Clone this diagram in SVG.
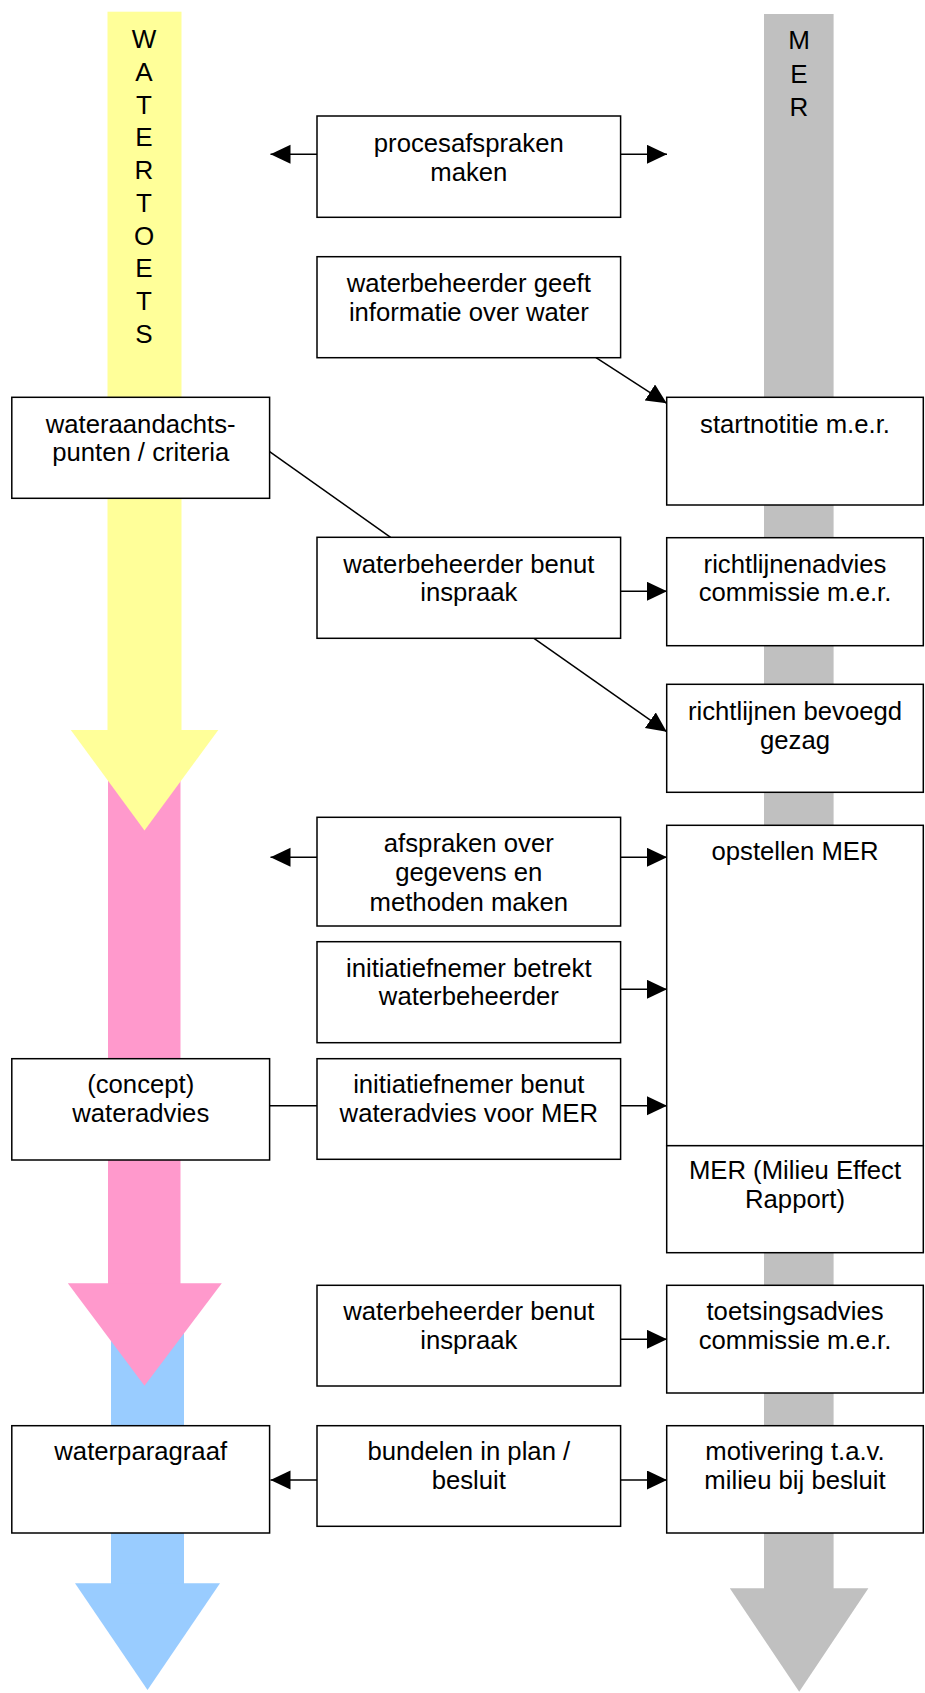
<svg xmlns="http://www.w3.org/2000/svg" width="925" height="1693" viewBox="0 0 925 1693">
  <style>
    .box { fill: #ffffff; stroke: #000000; stroke-width: 1.5; }
    .lbl { font-family: "Liberation Sans", Arial, sans-serif; font-size: 25.7px; fill: #000000; text-anchor: middle; }
    .col { font-family: "Liberation Sans", Arial, sans-serif; font-size: 26px; fill: #000000; text-anchor: middle; }
    .con { stroke: #000000; stroke-width: 1.5; fill: none; }
    .arr { marker-end: url(#head); }
  </style>
  <defs>
    <marker id="head" markerUnits="userSpaceOnUse" markerWidth="21" markerHeight="20" refX="20" refY="9.5" orient="auto" viewBox="0 0 21 20">
      <path d="M0,0 L20,9.5 L0,19 Z" fill="#000000"/>
    </marker>
  </defs>

  <!-- process streams -->
  <g id="streams">
    <!-- MER stream (grey) -->
    <rect x="764" y="14" width="69.6" height="1575" fill="#C0C0C0"/>
    <polygon points="729.8,1588.3 868.4,1588.3 799.2,1691.7" fill="#C0C0C0"/>
    <!-- watertoets: blue phase -->
    <rect x="111" y="1330" width="73" height="254" fill="#99CCFF"/>
    <polygon points="75,1583.3 220,1583.3 147.5,1690" fill="#99CCFF"/>
    <!-- watertoets: pink phase -->
    <rect x="108" y="760" width="72.5" height="524" fill="#FF99CC"/>
    <polygon points="67.8,1283.3 221.8,1283.3 144.5,1385.7" fill="#FF99CC"/>
    <!-- watertoets: yellow phase -->
    <rect x="107.5" y="11.7" width="74" height="719" fill="#FFFF99"/>
    <polygon points="70.8,730 218.3,730 144.5,830.5" fill="#FFFF99"/>
  </g>

  <!-- stream titles -->
  <g id="title-watertoets" class="col">
    <text x="144" y="48.3">W</text>
    <text x="144" y="81">A</text>
    <text x="144" y="113.7">T</text>
    <text x="144" y="146.4">E</text>
    <text x="144" y="179.1">R</text>
    <text x="144" y="211.8">T</text>
    <text x="144" y="244.5">O</text>
    <text x="144" y="277.2">E</text>
    <text x="144" y="309.9">T</text>
    <text x="144" y="342.6">S</text>
  </g>
  <g id="title-mer" class="col">
    <text x="799" y="49.3">M</text>
    <text x="799" y="82.8">E</text>
    <text x="799" y="116.3">R</text>
  </g>

  <!-- connectors -->
  <g id="connectors">
    <line class="con arr" x1="317" y1="154.3" x2="270.5" y2="154.3"/>
    <line class="con arr" x1="620.6" y1="154.3" x2="667" y2="154.3"/>
    <line class="con arr" x1="596" y1="357.7" x2="666.7" y2="403.3"/>
    <line class="con" x1="269.6" y1="451.7" x2="390.6" y2="537.3"/>
    <line class="con arr" x1="620.6" y1="591.3" x2="667" y2="591.3"/>
    <line class="con arr" x1="534" y1="638.3" x2="666.7" y2="731.7"/>
    <line class="con arr" x1="317" y1="857.3" x2="270.5" y2="857.3"/>
    <line class="con arr" x1="620.6" y1="857.3" x2="667" y2="857.3"/>
    <line class="con arr" x1="620.6" y1="989.3" x2="667" y2="989.3"/>
    <line class="con" x1="269.6" y1="1105.7" x2="317" y2="1105.7"/>
    <line class="con arr" x1="620.6" y1="1105.7" x2="667" y2="1105.7"/>
    <line class="con arr" x1="620.6" y1="1339.3" x2="667" y2="1339.3"/>
    <line class="con arr" x1="317" y1="1480" x2="270.5" y2="1480"/>
    <line class="con arr" x1="620.6" y1="1480" x2="667" y2="1480"/>
  </g>

  <!-- nodes -->
  <g id="procesafspraken">
    <rect class="box" x="317" y="116" width="303.6" height="101.3"/>
    <text class="lbl" x="468.8" y="152.3">procesafspraken</text>
    <text class="lbl" x="468.8" y="181">maken</text>
  </g>
  <g id="informatie-water">
    <rect class="box" x="317" y="256.7" width="303.6" height="101"/>
    <text class="lbl" x="468.8" y="292">waterbeheerder geeft</text>
    <text class="lbl" x="468.8" y="320.7">informatie over water</text>
  </g>
  <g id="wateraandachtspunten">
    <rect class="box" x="11.8" y="397.3" width="257.8" height="101"/>
    <text class="lbl" x="140.7" y="432.7">wateraandachts-</text>
    <text class="lbl" x="140.7" y="461.4">punten / criteria</text>
  </g>
  <g id="startnotitie">
    <rect class="box" x="666.7" y="397.3" width="256.6" height="107.7"/>
    <text class="lbl" x="795" y="432.7">startnotitie m.e.r.</text>
  </g>
  <g id="inspraak-1">
    <rect class="box" x="317" y="537.3" width="303.6" height="101"/>
    <text class="lbl" x="468.8" y="572.7">waterbeheerder benut</text>
    <text class="lbl" x="468.8" y="601.4">inspraak</text>
  </g>
  <g id="richtlijnenadvies">
    <rect class="box" x="666.7" y="537.7" width="256.6" height="108"/>
    <text class="lbl" x="795" y="572.7">richtlijnenadvies</text>
    <text class="lbl" x="795" y="601.4">commissie m.e.r.</text>
  </g>
  <g id="richtlijnen-bevoegd-gezag">
    <rect class="box" x="666.7" y="684.3" width="256.6" height="108"/>
    <text class="lbl" x="795" y="720">richtlijnen bevoegd</text>
    <text class="lbl" x="795" y="748.7">gezag</text>
  </g>
  <g id="afspraken-gegevens">
    <rect class="box" x="317" y="817.3" width="303.6" height="108.7"/>
    <text class="lbl" x="468.8" y="851.7">afspraken over</text>
    <text class="lbl" x="468.8" y="881.2">gegevens en</text>
    <text class="lbl" x="468.8" y="910.7">methoden maken</text>
  </g>
  <g id="opstellen-mer">
    <rect class="box" x="666.7" y="825.3" width="256.6" height="320.4"/>
    <text class="lbl" x="795" y="860">opstellen MER</text>
  </g>
  <g id="initiatiefnemer-betrekt">
    <rect class="box" x="317" y="941.7" width="303.6" height="101"/>
    <text class="lbl" x="468.8" y="976.5">initiatiefnemer betrekt</text>
    <text class="lbl" x="468.8" y="1005.2">waterbeheerder</text>
  </g>
  <g id="concept-wateradvies">
    <rect class="box" x="11.8" y="1058.7" width="257.8" height="101.3"/>
    <text class="lbl" x="140.7" y="1093.3">(concept)</text>
    <text class="lbl" x="140.7" y="1122">wateradvies</text>
  </g>
  <g id="initiatiefnemer-benut">
    <rect class="box" x="317" y="1058.7" width="303.6" height="100.6"/>
    <text class="lbl" x="468.8" y="1093.3">initiatiefnemer benut</text>
    <text class="lbl" x="468.8" y="1122">wateradvies voor MER</text>
  </g>
  <g id="mer-rapport">
    <rect class="box" x="666.7" y="1145.7" width="256.6" height="107"/>
    <text class="lbl" x="795" y="1179.3">MER (Milieu Effect</text>
    <text class="lbl" x="795" y="1208.3">Rapport)</text>
  </g>
  <g id="inspraak-2">
    <rect class="box" x="317" y="1285.3" width="303.6" height="100.7"/>
    <text class="lbl" x="468.8" y="1320">waterbeheerder benut</text>
    <text class="lbl" x="468.8" y="1348.7">inspraak</text>
  </g>
  <g id="toetsingsadvies">
    <rect class="box" x="666.7" y="1285.3" width="256.6" height="107.7"/>
    <text class="lbl" x="795" y="1320">toetsingsadvies</text>
    <text class="lbl" x="795" y="1348.7">commissie m.e.r.</text>
  </g>
  <g id="waterparagraaf">
    <rect class="box" x="11.8" y="1425.7" width="257.8" height="107.3"/>
    <text class="lbl" x="140.7" y="1460">waterparagraaf</text>
  </g>
  <g id="bundelen">
    <rect class="box" x="317" y="1425.7" width="303.6" height="100.6"/>
    <text class="lbl" x="468.8" y="1460">bundelen in plan /</text>
    <text class="lbl" x="468.8" y="1489.3">besluit</text>
  </g>
  <g id="motivering">
    <rect class="box" x="666.7" y="1425.7" width="256.6" height="107.3"/>
    <text class="lbl" x="795" y="1460">motivering t.a.v.</text>
    <text class="lbl" x="795" y="1489.3">milieu bij besluit</text>
  </g>
</svg>
